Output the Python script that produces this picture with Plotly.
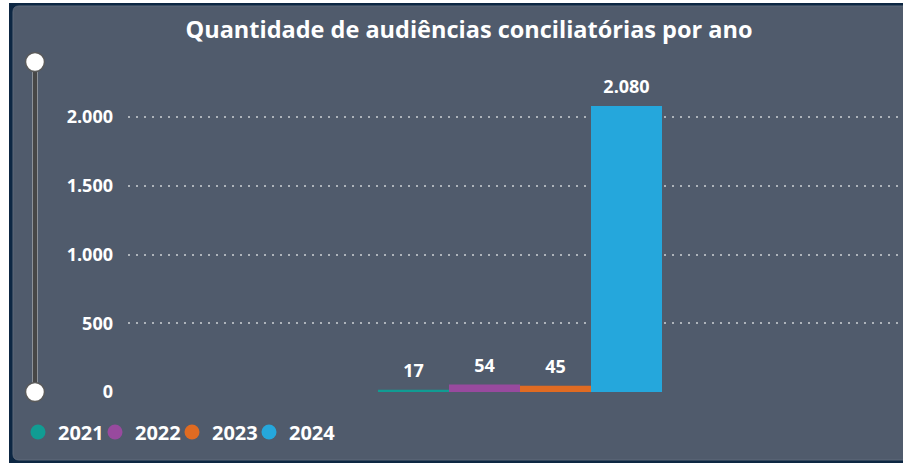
import plotly.graph_objects as go

# Data
years = ["2021", "2022", "2023", "2024"]
values = [17, 54, 45, 2080]
colors = ["#119c93", "#984a9e", "#e06b22", "#25a7dc"]
category = [""]
tick_vals = [0, 500, 1000, 1500, 2000]
tick_text = ["0", "500", "1.000", "1.500", "2.000"]

W, H = 903, 463
PL, PR_, PT, PB = 128, 903, 62, 392  # plot area in px

fig = go.Figure()
for yr, v, c in zip(years, values, colors):
    fig.add_trace(go.Bar(
        x=category, y=[v], name=yr, marker=dict(color=c, line=dict(width=0)),
        texttemplate="<span style='font-size:18px'>%{y:,.0f}</span><br> ",
        textposition="outside", cliponaxis=False,
        textfont=dict(family="Open Sans", size=6, color="white", weight="bold"),
        showlegend=False, legendgroup=yr,
    ))
    fig.add_trace(go.Scatter(
        x=[None], y=[None], mode="markers", name=yr, legendgroup=yr,
        marker=dict(symbol="circle", size=15, color=c, line=dict(width=0)),
        showlegend=True,
    ))
# spacer entry so the last legend item is not clipped
fig.add_trace(go.Scatter(x=[None], y=[None], mode="markers", name=" ",
                         marker=dict(size=1, color="rgba(0,0,0,0)"), showlegend=True))

def px_to_paper_x(px):
    return (px - PL) / (PR_ - PL)

def px_to_paper_y(py):
    return (PB - py) / (PB - PT)

def P(px, py):
    return f"{px_to_paper_x(px)},{px_to_paper_y(py)}"

x0, x1, y0, y1, r = 13, 910, 6, 460, 6
path = (f"M {P(x0 + r, y0)} L {P(x1, y0)} L {P(x1, y1)} L {P(x0 + r, y1)} "
        f"Q {P(x0, y1)} {P(x0, y1 - r)} L {P(x0, y0 + r)} Q {P(x0, y0)} {P(x0 + r, y0)} Z")

shapes = [
    dict(type="rect", xref="paper", yref="paper",
         x0=px_to_paper_x(9), x1=px_to_paper_x(905), y0=px_to_paper_y(465), y1=px_to_paper_y(3),
         fillcolor="#0d2743", line=dict(width=0), layer="below"),
    dict(type="path", xref="paper", yref="paper", layer="below",
         path=path, fillcolor="#505b6c", line=dict(color="#5f6a7a", width=1)),
]

# slider
sx = px_to_paper_x(35)
shapes += [
    dict(type="line", xref="paper", yref="paper", x0=sx, x1=sx, y0=0, y1=1,
         line=dict(color="#8d9299", width=6)),
    dict(type="line", xref="paper", yref="paper", x0=sx, x1=sx, y0=0, y1=1,
         line=dict(color="#474747", width=4)),
    dict(type="circle", xref="paper", yref="paper", xsizemode="pixel", ysizemode="pixel",
         xanchor=sx, yanchor=1, x0=-9.5, x1=9.5, y0=-9.5, y1=9.5,
         fillcolor="white", line=dict(color="#5a5a5a", width=1.5)),
    dict(type="circle", xref="paper", yref="paper", xsizemode="pixel", ysizemode="pixel",
         xanchor=sx, yanchor=0, x0=-9.5, x1=9.5, y0=-9.5, y1=9.5,
         fillcolor="white", line=dict(color="#5a5a5a", width=1.5)),
]

center_px = 520
a = -(center_px - PL) / (PR_ - PL)
group_frac = 284 / (PR_ - PL)

fig.update_layout(
    width=W, height=H,
    margin=dict(l=PL, r=W - PR_, t=PT, b=H - PB, pad=0),
    paper_bgcolor="white", plot_bgcolor="rgba(0,0,0,0)",
    separators=",.",
    barmode="group", bargap=1 - group_frac, bargroupgap=0,
    title=dict(text="<b>Quantidade de audiências conciliatórias por ano</b>",
               font=dict(family="Open Sans", size=23.5, color="white"),
               x=469 / W, xanchor="center", y=1 - 30 / H, yanchor="middle",
               xref="container", yref="container"),
    xaxis=dict(range=[a, a + 1], showgrid=False, showticklabels=False,
               zeroline=False, showline=False, fixedrange=True),
    yaxis=dict(range=[0, 2400], tickvals=tick_vals, ticktext=tick_text,
               showgrid=True, gridcolor="#aeb4bb", griddash="2px,6px", gridwidth=1.5,
               zeroline=False, showline=False, ticks="", ticklabelstandoff=14,
               fixedrange=True,
               tickfont=dict(family="Open Sans", size=18, color="white", weight="bold")),
    legend=dict(orientation="h", xref="container", yref="container",
                x=18 / W, xanchor="left", y=1 - 432 / H, yanchor="middle",
                font=dict(family="Open Sans", size=20, color="white", weight="bold"),
                itemwidth=30, entrywidth=32, entrywidthmode="pixels",
                tracegroupgap=0, bgcolor="rgba(0,0,0,0)"),
    shapes=shapes,
)

fig.write_html("out.html", config={"displayModeBar": False},
               post_script="document.body.style.margin='0';")
